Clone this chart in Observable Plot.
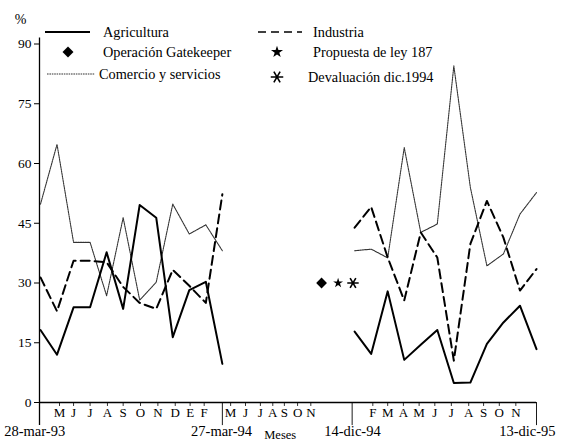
<!DOCTYPE html>
<html>
<head>
<meta charset="utf-8">
<script src="https://cdn.jsdelivr.net/npm/d3@7"></script>
<script src="https://cdn.jsdelivr.net/npm/@observablehq/plot@0.6"></script>
<style>
  body { margin: 0; background: #fff; }
  #chart { width: 561px; height: 441px; }
</style>
</head>
<body>
<div id="chart"></div>
<script>
// ---- Data ----
const seriesNames = ["Agricultura", "Industria", "Comercio y servicios"];

// observation index along the month axis
const periodLeft  = [0, 1, 2, 3, 4, 5, 6, 7, 8, 9, 10, 11];          // 28-mar-93 .. 27-mar-94
const periodRight = [19, 20, 21, 22, 23, 24, 25, 26, 27, 28, 29, 30]; // 14-dic-94 .. 13-dic-95

const agriLeft  = [18.2, 12.0, 23.9, 23.9, 37.7, 23.5, 49.6, 46.4, 16.4, 28.2, 30.3, 9.7];
const indLeft   = [31.4, 22.9, 35.6, 35.6, 35.2, 29.0, 25.0, 23.5, 33.3, 29.3, 25.0, 52.3];
const comLeft   = [49.8, 64.8, 40.2, 40.2, 26.8, 46.4, 25.7, 30.2, 49.8, 42.3, 44.6, 38.1];

const agriRight = [17.8, 12.2, 27.9, 10.7, 14.5, 18.2, 4.9, 5.0, 14.7, 20.1, 24.3, 13.4];
const indRight  = [43.9, 49.1, 36.4, 25.6, 42.7, 36.4, 10.5, 39.8, 50.6, 41.4, 28.1, 33.5];
const comRight  = [38.1, 38.5, 36.3, 64.0, 42.7, 44.8, 84.5, 54.0, 34.3, 37.3, 47.3, 52.7];

// events (all drawn at 30 %)
const eventNames  = ["Operación Gatekeeper", "Propuesta de ley 187", "Devaluación dic.1994"];
const eventPeriod = [17.0, 18.0, 18.9];
const eventValue  = [30, 30, 30];

// axis labels
const yTicks = [0, 15, 30, 45, 60, 75, 90];
const monthLetters = ["M","J","J","A","S","O","N","D","E","F",
                      "M","J","J","A","S","O","N",
                      "F","M","A","M","J","J","A","S","O","N"];
const monthPos = [1.15, 2.0, 3.0, 4.05, 5.0, 6.05, 7.1, 8.15, 9.05, 9.9,
                  11.5, 12.4, 13.3, 14.05, 14.75, 15.55, 16.35,
                  20.1, 21.0, 21.95, 22.9, 23.85, 24.85, 25.9, 26.8, 27.75, 28.75];
const dateLabels = ["28-mar-93", "27-mar-94", "14-dic-94", "13-dic-95"];
const datePos    = [-0.35, 10.95, 18.87, 29.45];
const separatorPos = [11, 18.85, 30];
const axisTitle = "Meses";

// ---- tidy rows ----
const rows = [];
function addSeries(name, seg, periods, values) {
  periods.forEach((t, i) => rows.push({series: name, seg: name + "-" + seg, t, v: values[i]}));
}
addSeries("Agricultura", "a", periodLeft, agriLeft);
addSeries("Agricultura", "b", periodRight, agriRight);
addSeries("Industria", "a", periodLeft, indLeft);
addSeries("Industria", "b", periodRight, indRight);
addSeries("Comercio y servicios", "a", periodLeft, comLeft);
addSeries("Comercio y servicios", "b", periodRight, comRight);

const events = eventNames.map((n, i) => ({name: n, t: eventPeriod[i], v: eventValue[i]}));
const months = monthLetters.map((m, i) => ({m, t: monthPos[i]}));
const dates = dateLabels.map((d, i) => ({d, t: datePos[i]}));

const FONT = "'Liberation Serif', 'Times New Roman', serif";
const x0 = -0.06;

const chart = Plot.plot({
  width: 561,
  height: 441,
  marginLeft: 39,
  marginRight: 25,
  marginTop: 43.5,
  marginBottom: 39,
  x: {domain: [x0, 30], axis: null},
  y: {domain: [0, 90]},
  style: {fontFamily: FONT, fontSize: "13px", background: "#fff", color: "#000", overflow: "visible"},
  marks: [
    Plot.axisY({ticks: yTicks, tickSize: 5, tickPadding: 3, fontSize: 13.5, label: null}),
    // y axis line (extends below zero as in reference)
    Plot.ruleX([x0], {y1: -5.8, y2: 91.5, stroke: "#000", strokeWidth: 1.3}),
    // x axis line
    Plot.ruleY([0], {x1: x0, x2: 30, stroke: "#000", strokeWidth: 1.3}),
    // month ticks
    Plot.ruleX(monthPos, {y1: 0, y2: -1, stroke: "#000", strokeWidth: 0.8}),
    // section separators
    Plot.ruleX(separatorPos, {y1: 0, y2: -5.8, stroke: "#000", strokeWidth: 0.9}),
    Plot.text(months, {x: "t", y: 0, text: "m", dy: 10, fontSize: 13, fill: "#000"}),
    Plot.text(dates, {x: "t", y: 0, text: "d", dy: 29, fontSize: 14.5, fill: "#000"}),
    Plot.text([axisTitle], {x: 14.5, y: 0, text: d => d, dy: 32, fontSize: 12.5, fill: "#000"}),
    Plot.text(["%"], {x: -1.2, y: 96.2, text: d => d, fontSize: 14, fill: "#000"}),
    // series
    Plot.line(rows.filter(d => d.series === "Comercio y servicios"),
      {x: "t", y: "v", z: "seg", stroke: "#333", strokeWidth: 1.1, strokeDasharray: "1.6,0.8"}),
    Plot.line(rows.filter(d => d.series === "Industria"),
      {x: "t", y: "v", z: "seg", stroke: "#000", strokeWidth: 2, strokeDasharray: "9,5"}),
    Plot.line(rows.filter(d => d.series === "Agricultura"),
      {x: "t", y: "v", z: "seg", stroke: "#000", strokeWidth: 2}),
    // events
    Plot.dot(events.filter(d => d.name === eventNames[0]),
      {x: "t", y: "v", symbol: "square", rotate: 45, r: 4.3, fill: "#000", stroke: "none"}),
    Plot.dot(events.filter(d => d.name === eventNames[1]),
      {x: "t", y: "v", symbol: "star", r: 3.1, fill: "#000", stroke: "none"}),
    Plot.dot(events.filter(d => d.name === eventNames[2]),
      {x: "t", y: "v", symbol: "asterisk", rotate: 90, r: 5.4, stroke: "#000", strokeWidth: 1.6, fill: "none"})
  ]
});

document.getElementById("chart").appendChild(chart);

// ---- Legend (drawn inside the top of the frame, as in the reference) ----
const svg = d3.select(chart);
const lg = svg.append("g").attr("font-family", FONT).attr("font-size", 14.3)
  .attr("fill", "#000").attr("text-anchor", "start");
const legendLines = [
  {name: seriesNames[0], x1: 45, x2: 90,  y: 32, tx: 103, width: 1.8, dash: null, color: "#000"},
  {name: seriesNames[1], x1: 258, x2: 302, y: 32, tx: 313, width: 1.6, dash: "8,5", color: "#000"},
  {name: seriesNames[2], x1: 47, x2: 95,  y: 74, tx: 99,  width: 1.1, dash: "1.6,0.8", color: "#333"}
];
legendLines.forEach(d => {
  lg.append("line").attr("x1", d.x1).attr("x2", d.x2).attr("y1", d.y).attr("y2", d.y)
    .attr("stroke", d.color).attr("stroke-width", d.width).attr("stroke-dasharray", d.dash);
  lg.append("text").attr("x", d.tx).attr("y", d.y).attr("dy", "0.35em")
    .attr("text-anchor", "start").text(d.name);
});
const legendSyms = [
  {name: eventNames[0], sx: 68,  sy: 52, tx: 103, type: d3.symbolSquare, size: 60, rot: 45, fill: true},
  {name: eventNames[1], sx: 277, sy: 52, tx: 313, type: d3.symbolStar, size: 45, rot: 0, fill: true},
  {name: eventNames[2], sx: 277, sy: 77, tx: 308, type: d3.symbolAsterisk, size: 110, rot: 90, fill: false}
];
legendSyms.forEach(d => {
  lg.append("path").attr("d", d3.symbol(d.type, d.size)())
    .attr("transform", `translate(${d.sx},${d.sy}) rotate(${d.rot})`)
    .attr("fill", d.fill ? "#000" : "none")
    .attr("stroke", d.fill ? "none" : "#000").attr("stroke-width", 1.6);
  lg.append("text").attr("x", d.tx).attr("y", d.sy).attr("dy", "0.35em")
    .attr("text-anchor", "start").text(d.name);
});
</script>
</body>
</html>
